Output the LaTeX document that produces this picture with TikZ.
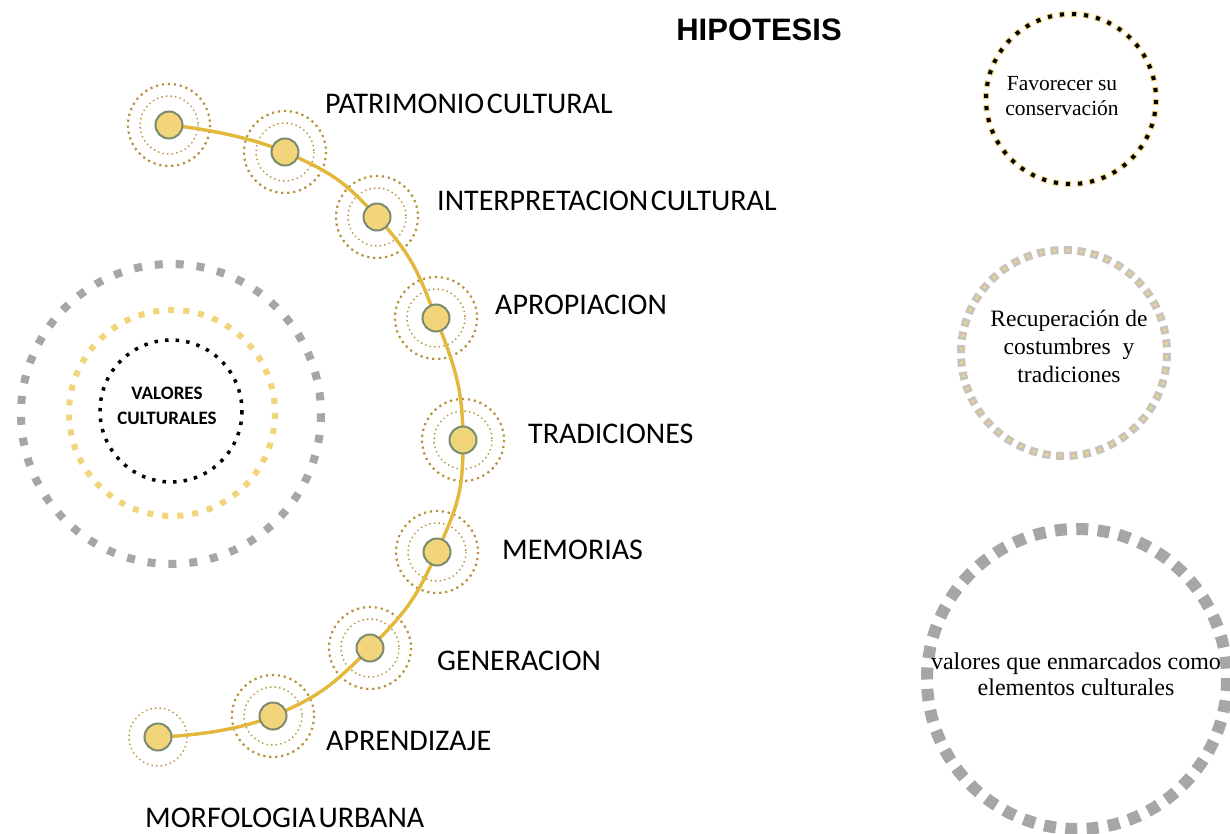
\documentclass[tikz,border=0pt]{standalone}
\usepackage{fontspec}
\setmainfont{Liberation Serif}
\newfontfamily\calibri{Carlito}
\newfontfamily\arial{Liberation Sans}
\usetikzlibrary{positioning}

\definecolor{oro}{HTML}{E5B935}
\definecolor{crema}{HTML}{F2D57A}
\definecolor{musgo}{HTML}{7B8B6F}
\definecolor{ocre}{HTML}{B8923A}
\definecolor{gris}{HTML}{A6A6A6}
\definecolor{grisclaro}{HTML}{C8C4BC}

\begin{document}
\begin{tikzpicture}[x=1pt,y=-1pt,
  punto/.style={circle,fill=crema,draw=musgo,line width=2pt,minimum size=27pt,inner sep=0pt},
  aroint/.style={draw=ocre,line width=1.4pt,dash pattern=on 1.4pt off 3.2pt},
  aroext/.style={draw=ocre,line width=2.2pt,dash pattern=on 2.2pt off 3.8pt},
  etiqueta/.style={font=\calibri\fontsize{30}{32}\selectfont,inner sep=0pt,anchor=base west},
  texto/.style={align=center,inner sep=0pt}]
\useasboundingbox (0,0) rectangle (1230,834);
\fill[white] (0,0) rectangle (1230,834);

% puntos de la linea
\coordinate (p1) at (169,125);
\coordinate (p2) at (285,152);
\coordinate (p3) at (377,217);
\coordinate (p4) at (436,318);
\coordinate (p5) at (463,440);
\coordinate (p6) at (437,552);
\coordinate (p7) at (370,648);
\coordinate (p8) at (273,716);
\coordinate (p9) at (158,737);

\foreach \q in {p1,p2,p3,p4,p5,p6,p7,p8} {
  \draw[aroint] (\q) circle (29);
  \draw[aroext] (\q) circle (41);
}
\draw[aroint] (p9) circle (29);

\draw[gray!60,line width=3pt,xshift=1.5pt,yshift=-1.5pt]
  plot[smooth,tension=0.8] coordinates {(p1) (p2) (p3) (p4) (p5) (p6) (p7) (p8) (p9)};
\draw[oro,line width=3.2pt]
  plot[smooth,tension=0.8] coordinates {(p1) (p2) (p3) (p4) (p5) (p6) (p7) (p8) (p9)};

\foreach \q in {1,...,9}
  \node[punto] (n\q) at (p\q) {};

\node[etiqueta] (patrimonio) at (325,114) {PATRIMONIO\hspace{-0.14em} CULTURAL};
\node[etiqueta] (interpretacion) at (437,211) {INTERPRETACION\hspace{-0.14em} CULTURAL};
\node[etiqueta] (apropiacion) at (495,314) {APROPIACION};
\node[etiqueta] (tradiciones) at (528,443) {TRADICIONES};
\node[etiqueta] (memorias) at (502,559) {MEMORIAS};
\node[etiqueta] (generacion) at (437,670) {GENERACION};
\node[etiqueta] (aprendizaje) at (326,750) {APRENDIZAJE};
\node[etiqueta] (morfologia) at (145,827) {MORFOLOGIA\hspace{-0.14em} URBANA};

\node[font=\arial\bfseries\fontsize{31}{36}\selectfont] (titulo) at (759,30) {HIPOTESIS};

% circulos de la izquierda
\draw[gris,line width=8pt,dash pattern=on 8pt off 12.93pt] (171,414) circle (150);
\draw[crema,line width=6pt,dash pattern=on 6pt off 9.05pt] (172,413) circle (103);
\draw[black,line width=3.5pt,dash pattern=on 3.5pt off 7.1pt] (171,411) circle (71);
\node[texto,font=\calibri\bfseries\fontsize{19}{25}\selectfont] (valores) at (167,406) {VALORES\\CULTURALES};

% circulos de la derecha
\draw[crema,line width=6pt,dash pattern=on 6pt off 6.14pt] (1071,99) circle (85);
\draw[black,line width=4pt,dash pattern=on 4pt off 8.14pt,dash phase=11.14pt] (1071,99) circle (85);
\node[texto,font=\fontsize{21.5}{24.5}\selectfont] (favorecer) at (1062,96) {Favorecer su\\conservación};

\draw[grisclaro,line width=8pt,dash pattern=on 8pt off 5.48pt] (1064,353) circle (103);
\draw[crema,line width=2.5pt,dash pattern=on 2.5pt off 10.98pt,dash phase=10.73pt] (1064,353) circle (103);
\node[texto,font=\fontsize{23.5}{28}\selectfont] (recuperacion) at (1069,346) {Recuperación de\\costumbres \ y\\tradiciones};

\draw[gris,line width=12pt,dash pattern=on 12pt off 9.4pt] (1077,679) circle (150);
\node[texto,font=\fontsize{24}{26}\selectfont] (elementos) at (1076,674) {valores que enmarcados como\\elementos culturales};
\end{tikzpicture}
\end{document}
